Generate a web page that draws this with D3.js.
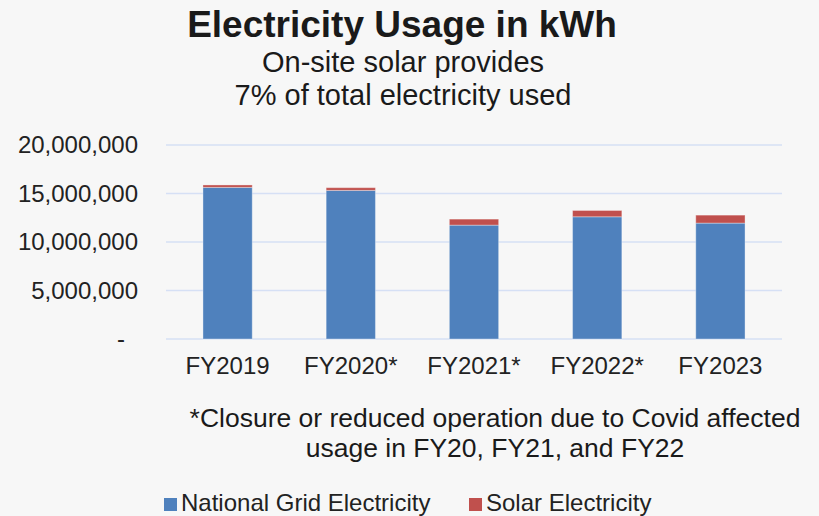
<!DOCTYPE html>
<html>
<head>
<meta charset="utf-8">
<script src="https://cdn.jsdelivr.net/npm/d3@7"></script>
<style>
  body { margin: 0; background: #f7f7f7; }
  svg { font-family: "Liberation Sans", Arial, sans-serif; }
</style>
</head>
<body>
<div id="chart"></div>
<script>
// Chart data
const years = ["FY2019", "FY2020*", "FY2021*", "FY2022*", "FY2023"];
const gridValues = [15630000, 15320000, 11740000, 12600000, 11950000];
const solarValues = [250000, 280000, 620000, 650000, 820000];
const yTicks = [0, 5000000, 10000000, 15000000, 20000000];
const seriesNames = ["National Grid Electricity", "Solar Electricity"];
const seriesColors = ["#4f81bd", "#c0504d"];

const width = 819, height = 516;
const margin = { top: 145, left: 166, right: 37, bottom: 177 };

const svg = d3.select("#chart").append("svg")
    .attr("width", width)
    .attr("height", height);

svg.append("rect").attr("width", width).attr("height", height).attr("fill", "#f7f7f7");

const x = d3.scaleBand()
    .domain(years)
    .range([margin.left, width - margin.right])
    .paddingInner(0.6)
    .paddingOuter(0.3);

const y = d3.scaleLinear()
    .domain([0, 20000000])
    .range([height - margin.bottom, margin.top]);

// gridlines
svg.append("g").selectAll("line")
    .data(yTicks)
    .enter().append("line")
    .attr("x1", margin.left)
    .attr("x2", width - margin.right)
    .attr("y1", d => y(d))
    .attr("y2", d => y(d))
    .attr("stroke", "#d6e0f5")
    .attr("stroke-width", 1.5);

// y axis labels
const yAxis = d3.axisLeft(y)
    .tickValues(yTicks)
    .tickSize(0)
    .tickPadding(0)
    .tickFormat(d => d === 0 ? "-" : d3.format(",")(d));

const yg = svg.append("g")
    .attr("transform", `translate(138,0)`)
    .call(yAxis);
yg.select(".domain").remove();
yg.selectAll("text")
    .attr("font-size", 24)
    .attr("fill", "#222")
    .attr("font-family", "Liberation Sans, Arial, sans-serif");
yg.selectAll(".tick").filter(d => d === 0).select("text").attr("dx", -13);

// stacked bars
const data = years.map((yr, i) => ({ year: yr, grid: gridValues[i], solar: solarValues[i] }));
const stack = d3.stack().keys(["grid", "solar"])(data);

svg.append("g").selectAll("g")
    .data(stack)
    .enter().append("g")
    .attr("fill", (d, i) => seriesColors[i])
    .selectAll("rect")
    .data(d => d)
    .enter().append("rect")
    .attr("x", d => x(d.data.year))
    .attr("width", x.bandwidth())
    .attr("y", d => y(d[1]))
    .attr("height", d => y(d[0]) - y(d[1]))
    .attr("stroke", "rgba(255,255,255,0.35)")
    .attr("stroke-width", 1);

// x axis labels
const xAxis = d3.axisBottom(x).tickSize(0).tickPadding(0);
const xg = svg.append("g")
    .attr("transform", `translate(0,${height - margin.bottom + 18})`)
    .call(xAxis);
xg.select(".domain").remove();
xg.selectAll("text")
    .attr("font-size", 24)
    .attr("fill", "#222")
    .attr("font-family", "Liberation Sans, Arial, sans-serif");

// titles
svg.append("text")
    .attr("x", 402).attr("y", 37)
    .attr("text-anchor", "middle")
    .attr("font-size", 37).attr("font-weight", "bold")
    .attr("fill", "#1a1a1a")
    .text("Electricity Usage in kWh");

svg.append("text")
    .attr("x", 403).attr("y", 72)
    .attr("text-anchor", "middle")
    .attr("font-size", 29).attr("fill", "#1a1a1a")
    .text("On-site solar provides");

svg.append("text")
    .attr("x", 403).attr("y", 105)
    .attr("text-anchor", "middle")
    .attr("font-size", 29).attr("fill", "#1a1a1a")
    .text("7% of total electricity used");

// footnote
svg.append("text")
    .attr("x", 495).attr("y", 427)
    .attr("text-anchor", "middle")
    .attr("font-size", 26.5).attr("fill", "#1a1a1a")
    .text("*Closure or reduced operation due to Covid affected");

svg.append("text")
    .attr("x", 495).attr("y", 457)
    .attr("text-anchor", "middle")
    .attr("font-size", 26.5).attr("fill", "#1a1a1a")
    .text("usage in FY20, FY21, and FY22");

// legend
const legendX = [164, 469];
const legend = svg.append("g").selectAll("g")
    .data(seriesNames)
    .enter().append("g")
    .attr("transform", (d, i) => `translate(${legendX[i]},498)`);

legend.append("rect")
    .attr("width", 13).attr("height", 13)
    .attr("fill", (d, i) => seriesColors[i]);

legend.append("text")
    .attr("x", 17).attr("y", 13)
    .attr("font-size", 24).attr("fill", "#222")
    .text(d => d);
</script>
</body>
</html>
